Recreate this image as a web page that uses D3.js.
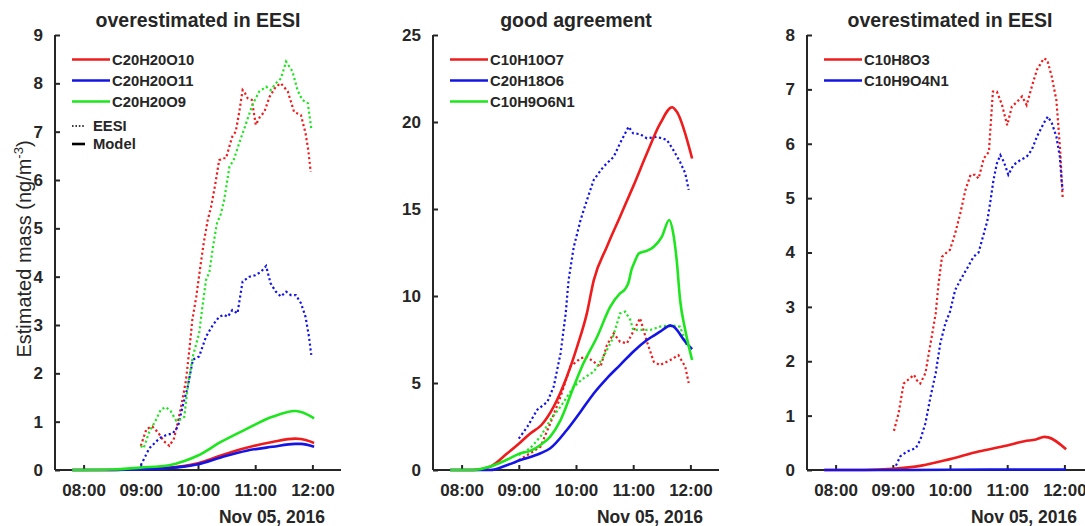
<!DOCTYPE html>
<html><head><meta charset="utf-8">
<script src="https://cdn.jsdelivr.net/npm/d3@7"></script>
<style>
html,body{margin:0;padding:0;background:#fff;}
svg{display:block;}
text{font-family:Arial,"Liberation Sans",Helvetica,sans-serif;fill:#262626;}
</style></head>
<body>
<svg id="chart" width="1085" height="526"></svg>
<script>
// ---------- data (time in decimal hours, Nov 05 2016) ----------
const panelTitles = ["overestimated in EESI", "good agreement", "overestimated in EESI"];
const xTickLabels = ["08:00", "09:00", "10:00", "11:00", "12:00"];
const dateLabel = "Nov 05, 2016";
const yMax = [9, 25, 8];
const yTickStep = [1, 5, 1];

// Panel 1
const p1Names = ["C20H20O10", "C20H20O11", "C20H20O9"];
const p1ModelRed = [[7.8,0],[8.5,0],[9.0,0.02],[9.5,0.05],[9.75,0.08],[10.0,0.14],[10.4,0.3],[10.85,0.46],[11.3,0.58],[11.7,0.65],[11.8,0.64],[12.03,0.56]];
const p1ModelBlue = [[7.8,0],[8.5,0],[9.0,0.01],[9.5,0.04],[9.75,0.07],[10.0,0.12],[10.4,0.26],[10.85,0.4],[11.3,0.48],[11.7,0.54],[11.8,0.54],[12.03,0.48]];
const p1ModelGreen = [[7.8,0],[8.5,0.01],[9.0,0.05],[9.5,0.1],[9.75,0.18],[10.0,0.3],[10.4,0.58],[10.85,0.85],[11.3,1.1],[11.7,1.22],[11.8,1.2],[12.03,1.07]];
const p1EesiRed = [[9.0,0.5],[9.1,0.85],[9.2,0.9],[9.3,0.78],[9.4,0.6],[9.5,0.5],[9.58,0.65],[9.65,1.0],[9.72,1.4],[9.79,1.86],[9.85,2.5],[9.9,3.1],[9.97,3.59],[10.04,4.2],[10.1,4.7],[10.17,5.17],[10.23,5.45],[10.3,5.9],[10.37,6.41],[10.43,6.45],[10.49,6.45],[10.55,6.7],[10.6,6.9],[10.66,7.0],[10.72,7.4],[10.78,7.86],[10.82,7.8],[10.87,7.69],[10.94,7.66],[11.01,7.14],[11.08,7.3],[11.16,7.41],[11.25,7.72],[11.36,7.93],[11.45,8.0],[11.57,7.83],[11.63,7.6],[11.68,7.41],[11.8,7.34],[11.88,6.97],[11.93,6.6],[11.97,6.17]];
const p1EesiBlue = [[9.0,0.1],[9.15,0.45],[9.33,0.66],[9.44,0.72],[9.56,0.76],[9.65,0.9],[9.73,1.31],[9.82,1.72],[9.91,2.28],[10.02,2.35],[10.14,2.76],[10.26,3.0],[10.37,3.17],[10.45,3.21],[10.52,3.17],[10.6,3.31],[10.69,3.24],[10.78,3.9],[10.9,4.0],[11.0,4.03],[11.1,4.1],[11.19,4.22],[11.27,3.86],[11.36,3.69],[11.45,3.59],[11.54,3.69],[11.62,3.62],[11.71,3.62],[11.8,3.45],[11.88,3.17],[11.94,2.76],[11.98,2.38]];
const p1EesiGreen = [[9.0,0.5],[9.05,0.45],[9.15,0.8],[9.25,1.0],[9.35,1.25],[9.44,1.3],[9.52,1.22],[9.62,1.02],[9.7,1.05],[9.76,1.1],[9.82,1.72],[9.91,2.35],[10.02,2.83],[10.08,3.4],[10.14,3.93],[10.2,4.1],[10.26,4.6],[10.33,5.1],[10.4,5.3],[10.46,5.6],[10.55,6.28],[10.62,6.4],[10.72,6.76],[10.84,7.17],[10.95,7.55],[11.07,7.83],[11.19,7.93],[11.27,7.86],[11.36,8.0],[11.45,8.1],[11.54,8.45],[11.65,8.25],[11.74,7.86],[11.82,7.66],[11.92,7.59],[11.98,7.07]];

// Panel 2
const p2Names = ["C10H10O7", "C20H18O6", "C10H9O6N1"];
const p2ModelRed = [[7.8,0],[8.2,0],[8.5,0.19],[8.8,0.96],[9.03,1.6],[9.2,2.1],[9.4,2.6],[9.61,3.64],[9.84,5.36],[10.02,7.09],[10.19,9.0],[10.31,10.9],[10.54,12.83],[10.77,14.56],[11.0,16.3],[11.24,18.2],[11.47,19.9],[11.68,20.85],[11.76,20.6],[12.03,17.9]];
const p2ModelBlue = [[7.8,0],[8.5,0],[8.8,0.29],[9.03,0.57],[9.38,0.96],[9.55,1.25],[9.84,2.3],[10.08,3.35],[10.31,4.4],[10.54,5.27],[10.77,6.03],[11.0,6.8],[11.24,7.47],[11.47,7.95],[11.65,8.3],[11.7,8.25],[11.91,7.37],[12.03,6.95]];
const p2ModelGreen = [[7.8,0],[8.2,0],[8.5,0.2],[8.8,0.6],[9.03,0.96],[9.2,1.1],[9.38,1.44],[9.55,1.92],[9.73,2.87],[9.96,4.79],[10.13,6.13],[10.37,7.66],[10.6,9.39],[10.77,10.15],[10.86,10.4],[10.92,10.8],[10.97,11.5],[11.03,12.0],[11.1,12.45],[11.24,12.6],[11.36,12.83],[11.5,13.4],[11.63,14.37],[11.7,13.6],[11.76,12.07],[11.82,9.77],[11.91,8.05],[12.03,6.32]];
const p2EesiRed = [[9.0,0.57],[9.2,0.96],[9.38,1.34],[9.55,2.68],[9.73,4.21],[9.9,5.94],[10.08,6.42],[10.19,6.5],[10.31,6.22],[10.43,5.94],[10.54,7.18],[10.66,7.85],[10.77,7.37],[10.89,7.28],[11.0,7.95],[11.12,8.72],[11.24,7.37],[11.36,6.22],[11.47,6.03],[11.65,6.32],[11.79,6.6],[11.91,5.94],[11.97,5.0]];
const p2EesiBlue = [[9.0,1.8],[9.15,2.49],[9.32,3.45],[9.5,3.92],[9.61,4.79],[9.73,6.7],[9.82,9.0],[9.87,10.9],[9.96,12.8],[10.08,14.37],[10.19,15.5],[10.31,16.67],[10.48,17.43],[10.66,18.0],[10.77,18.78],[10.92,19.73],[11.0,19.35],[11.12,19.3],[11.24,19.06],[11.41,19.15],[11.59,18.97],[11.7,18.4],[11.82,17.7],[11.91,17.05],[11.97,16.1]];
const p2EesiGreen = [[9.0,0.86],[9.2,1.25],[9.38,1.92],[9.55,2.87],[9.73,3.64],[9.96,4.79],[10.13,5.27],[10.31,5.65],[10.48,6.51],[10.63,7.47],[10.77,9.0],[10.86,9.1],[10.95,8.62],[11.0,8.05],[11.12,8.05],[11.3,8.05],[11.47,8.24],[11.65,8.33],[11.82,8.24],[11.94,7.09]];

// Panel 3
const p3Names = ["C10H8O3", "C10H9O4N1"];
const p3ModelRed = [[7.8,0],[8.5,0],[9.0,0.02],[9.5,0.08],[10.0,0.2],[10.5,0.34],[11.0,0.45],[11.3,0.53],[11.5,0.56],[11.65,0.61],[11.72,0.6],[12.03,0.38]];
const p3ModelBlue = [[7.8,0],[9.0,0],[10.0,0.005],[11.0,0.01],[12.03,0.01]];
const p3EesiRed = [[9.02,0.72],[9.1,1.04],[9.19,1.59],[9.28,1.67],[9.37,1.75],[9.42,1.65],[9.48,1.59],[9.57,1.78],[9.66,2.33],[9.75,2.88],[9.8,3.43],[9.86,3.92],[9.95,4.01],[10.0,4.05],[10.09,4.35],[10.18,4.72],[10.27,5.15],[10.36,5.43],[10.44,5.43],[10.5,5.36],[10.59,5.73],[10.68,5.85],[10.75,6.96],[10.82,6.96],[10.91,6.71],[11.0,6.34],[11.08,6.68],[11.17,6.77],[11.26,6.87],[11.34,6.71],[11.43,7.05],[11.52,7.36],[11.64,7.57],[11.7,7.54],[11.78,7.23],[11.86,6.8],[11.9,6.25],[11.93,5.82],[11.95,5.39],[11.97,5.0]];
const p3EesiBlue = [[9.02,0],[9.13,0.25],[9.25,0.34],[9.4,0.4],[9.48,0.55],[9.57,0.86],[9.66,1.35],[9.75,1.78],[9.83,2.33],[9.92,2.7],[10.0,2.91],[10.09,3.31],[10.18,3.49],[10.3,3.71],[10.41,3.92],[10.5,4.0],[10.56,4.23],[10.65,4.57],[10.7,4.9],[10.76,5.33],[10.82,5.64],[10.88,5.79],[10.94,5.67],[11.02,5.43],[11.11,5.61],[11.23,5.7],[11.34,5.76],[11.43,5.89],[11.52,6.13],[11.64,6.38],[11.71,6.5],[11.78,6.38],[11.86,6.13],[11.92,5.76],[11.95,5.33],[11.97,5.15]];

// ---------- rendering ----------
const RED = "#ee1c1c", BLUE = "#1414e6", GREEN = "#1ee61e", AX = "#262626";
const panels = [
  {x0: 55,  names: p1Names, colors: [RED, BLUE, GREEN], eesi: [p1EesiRed, p1EesiBlue, p1EesiGreen], model: [p1ModelRed, p1ModelBlue, p1ModelGreen], styleLegend: true},
  {x0: 433, names: p2Names, colors: [RED, BLUE, GREEN], eesi: [p2EesiRed, p2EesiBlue, p2EesiGreen], model: [p2ModelRed, p2ModelBlue, p2ModelGreen], styleLegend: false},
  {x0: 807, names: p3Names, colors: [RED, BLUE], eesi: [p3EesiRed, p3EesiBlue], model: [p3ModelRed, p3ModelBlue], styleLegend: false}
];
const W = 286, yTop = 35, yBot = 470;
const day = new Date(2016, 10, 5);
const toDate = h => new Date(day.getTime() + h * 3600000);
const svg = d3.select("#chart");

panels.forEach((p, i) => {
  const x = d3.scaleTime().domain([toDate(7.5), toDate(12.5)]).range([p.x0, p.x0 + W]);
  const y = d3.scaleLinear().domain([0, yMax[i]]).range([yBot, yTop]);

  // axes (drawn first so data lines sit on top)
  const hourTicks = [8, 9, 10, 11, 12].map(toDate);
  const xAxis = d3.axisBottom(x).tickValues(hourTicks).tickSize(-5)
    .tickFormat((d, j) => xTickLabels[j]).tickPadding(14);
  const gx = svg.append("g").attr("transform", `translate(0,${yBot})`).call(xAxis);
  gx.select(".domain").attr("stroke", AX).attr("stroke-width", 2).attr("d", `M${p.x0},0H${p.x0 + W}`);
  gx.selectAll(".tick line").attr("stroke", AX).attr("stroke-width", 2);
  gx.selectAll(".tick text").attr("font-size", 17).attr("font-weight", "bold")
    .attr("fill", AX).attr("font-family", "Arial, 'Liberation Sans', sans-serif").attr("dy", "0.71em");

  const yAxis = d3.axisLeft(y).tickValues(d3.range(0, yMax[i] + 0.001, yTickStep[i]))
    .tickSize(-5).tickPadding(12).tickFormat(d3.format("d"));
  const gy = svg.append("g").attr("transform", `translate(${p.x0},0)`).call(yAxis);
  gy.select(".domain").attr("stroke", AX).attr("stroke-width", 2).attr("d", `M0,${yTop}V${yBot}`);
  gy.selectAll(".tick line").attr("stroke", AX).attr("stroke-width", 2);
  gy.selectAll(".tick text").attr("font-size", 17).attr("font-weight", "bold")
    .attr("fill", AX).attr("font-family", "Arial, 'Liberation Sans', sans-serif");

  const g = svg.append("g");
  const line = d3.line().x(d => x(toDate(d[0]))).y(d => y(d[1]));
  const smooth = d3.line().x(d => x(toDate(d[0]))).y(d => y(d[1])).curve(d3.curveMonotoneX);

  // EESI dotted
  p.eesi.forEach((s, k) => {
    g.append("path").attr("d", line(s)).attr("fill", "none")
      .attr("stroke", p.colors[k]).attr("stroke-width", 2.2)
      .attr("stroke-dasharray", "2.2,2.6");
  });
  // Model solid
  p.model.forEach((s, k) => {
    g.append("path").attr("d", smooth(s)).attr("fill", "none")
      .attr("stroke", p.colors[k]).attr("stroke-width", 2.6)
      .attr("stroke-linejoin", "round");
  });

  // title
  svg.append("text").attr("x", p.x0 + 143).attr("y", 27).attr("text-anchor", "middle")
    .attr("font-size", 19.5).attr("font-weight", "bold").attr("fill", "#111").text(panelTitles[i]);

  // date label
  svg.append("text").attr("x", p.x0 + 270).attr("y", 523).attr("text-anchor", "end")
    .attr("font-size", 17.5).attr("font-weight", "bold").attr("fill", AX).text(dateLabel);

  // legend
  const lx = p.x0 + 17;
  p.names.forEach((n, k) => {
    const ly = 59.5 + k * 21;
    svg.append("line").attr("x1", lx).attr("x2", lx + 38).attr("y1", ly).attr("y2", ly)
      .attr("stroke", p.colors[k]).attr("stroke-width", 2.6);
    svg.append("text").attr("x", lx + 40).attr("y", ly).attr("dy", "0.36em")
      .attr("font-size", 14.8).attr("font-weight", "bold").attr("fill", "#111").text(n);
  });
  if (p.styleLegend) {
    const rows = [{t: "EESI", y: 126, dash: "1.6,1.8", w: 1.6}, {t: "Model", y: 144, dash: null, w: 2.6}];
    rows.forEach(r => {
      const l = svg.append("line").attr("x1", lx).attr("x2", lx + 13).attr("y1", r.y).attr("y2", r.y)
        .attr("stroke", "#000").attr("stroke-width", r.w);
      if (r.dash) l.attr("stroke-dasharray", r.dash);
      svg.append("text").attr("x", lx + 21).attr("y", r.y).attr("dy", "0.36em")
        .attr("font-size", 14.8).attr("font-weight", "bold").attr("fill", "#111").text(r.t);
    });
  }
});

// y-axis label
const yl = svg.append("text").attr("transform", "translate(31,249) rotate(-90)")
  .attr("text-anchor", "middle").attr("font-size", 20).attr("fill", AX);
yl.append("tspan").text("Estimated mass (ng/m");
yl.append("tspan").attr("font-size", 13).attr("dy", -8).text("-3");
yl.append("tspan").attr("dy", 8).text(")");
</script>
</body></html>
